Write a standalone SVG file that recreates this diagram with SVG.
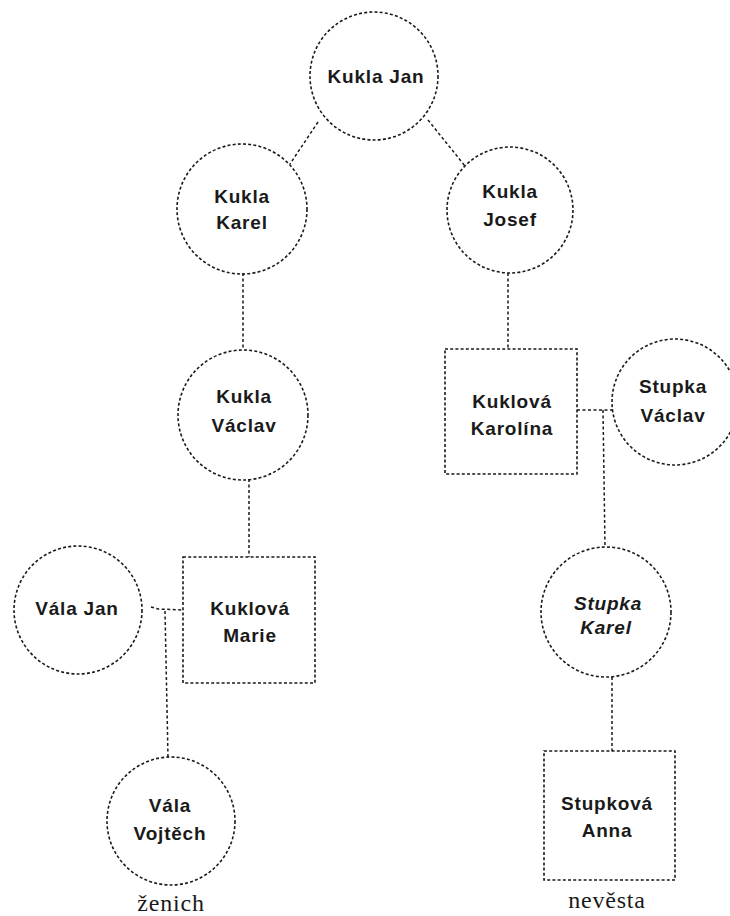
<svg xmlns="http://www.w3.org/2000/svg" width="730" height="916" viewBox="0 0 730 916">
<style>
.n{fill:none;stroke:#1a1a1a;stroke-width:1.6;stroke-dasharray:3 2.2}
.c{fill:none;stroke:#1a1a1a;stroke-width:1.5;stroke-dasharray:3 2.5}
.t{font-family:"Liberation Sans","DejaVu Sans",sans-serif;font-weight:bold;font-size:19px;fill:#1a1a1a;text-anchor:middle;letter-spacing:0.8px}
.i{font-style:italic}
.l{font-family:"Liberation Serif","DejaVu Serif",serif;font-size:24px;fill:#1a1a1a;text-anchor:middle;letter-spacing:0.8px}
</style>
<rect width="730" height="916" fill="#fff"/>
<g id="connectors">
<line class="c" x1="318" y1="122" x2="290" y2="164"/>
<line class="c" x1="428" y1="120" x2="465" y2="166"/>
<line class="c" x1="243" y1="273" x2="243" y2="350"/>
<line class="c" x1="508" y1="273" x2="508" y2="349"/>
<line class="c" x1="249" y1="479" x2="249" y2="557"/>
<line class="c" x1="577" y1="410" x2="614" y2="410"/>
<line class="c" x1="603" y1="410" x2="605" y2="547"/>
<line class="c" x1="612" y1="677" x2="612" y2="751"/>
<path class="c" d="M151 607 L158 609 L183 610"/>
<line class="c" x1="165" y1="611" x2="168" y2="757"/>
</g>
<g id="kukla-jan"><circle class="n" cx="374" cy="76" r="64"/><text class="t" x="376" y="83">Kukla Jan</text></g>
<g id="kukla-karel"><circle class="n" cx="242" cy="209" r="65"/><text class="t" x="242" y="203">Kukla</text><text class="t" x="242" y="229">Karel</text></g>
<g id="kukla-josef"><circle class="n" cx="510" cy="210" r="63"/><text class="t" x="510" y="198">Kukla</text><text class="t" x="510" y="226">Josef</text></g>
<g id="kukla-vaclav"><circle class="n" cx="243" cy="415" r="65"/><text class="t" x="244" y="403">Kukla</text><text class="t" x="244" y="432">Václav</text></g>
<g id="kuklova-karolina"><rect class="n" x="445" y="349" width="132" height="125"/><text class="t" x="512" y="408">Kuklová</text><text class="t" x="512" y="435">Karolína</text></g>
<g id="stupka-vaclav"><circle class="n" cx="675" cy="402" r="63"/><text class="t" x="673" y="393">Stupka</text><text class="t" x="673" y="422">Václav</text></g>
<g id="vala-jan"><circle class="n" cx="78" cy="610" r="64"/><text class="t" x="77" y="615">Vála Jan</text></g>
<g id="kuklova-marie"><rect class="n" x="183" y="557" width="132" height="126"/><text class="t" x="250" y="615">Kuklová</text><text class="t" x="250" y="642">Marie</text></g>
<g id="stupka-karel"><circle class="n" cx="606" cy="612" r="65"/><text class="t i" x="608" y="610">Stupka</text><text class="t i" x="606" y="634">Karel</text></g>
<g id="vala-vojtech"><circle class="n" cx="171" cy="821" r="64"/><text class="t" x="170" y="812">Vála</text><text class="t" x="170" y="840">Vojtěch</text></g>
<text class="l" x="171" y="911">ženich</text>
<g id="stupkova-anna"><rect class="n" x="544" y="751" width="131" height="129"/><text class="t" x="607" y="810">Stupková</text><text class="t" x="607" y="837">Anna</text></g>
<text class="l" x="607" y="908">nevěsta</text>
</svg>
